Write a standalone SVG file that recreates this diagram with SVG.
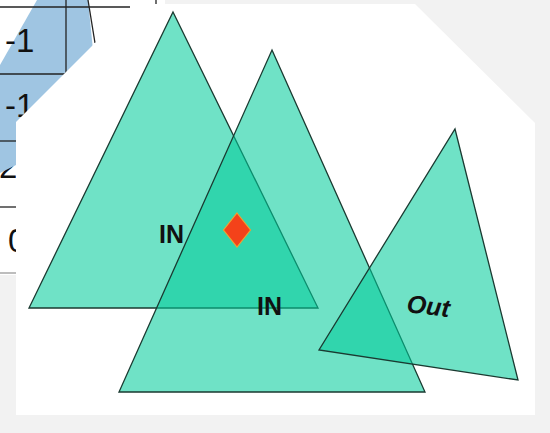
<svg xmlns="http://www.w3.org/2000/svg" width="550" height="433" viewBox="0 0 550 433">
<style>
.tri{fill:rgb(2,204,154);fill-opacity:0.57;stroke:#1a3a31;stroke-width:1.3;stroke-linejoin:miter}
.tl{stroke:#222;stroke-width:1.3;fill:none}
.tt{font-family:"Liberation Sans",Arial,sans-serif;font-size:33px;fill:#111}
.lbl{font-family:"Liberation Sans",Arial,sans-serif;font-weight:bold;font-size:25px;fill:#111}
</style>
<rect x="0" y="0" width="550" height="433" fill="#f2f2f2"/>
<g id="table">
<rect x="0" y="0" width="165" height="275" fill="#ffffff"/>
<text class="tt" x="-1" y="178">2</text>
<polygon points="37,0 88,0 100,120 16,165 0,173 0,65" fill="#9fc5e2"/>
<line class="tl" x1="88" y1="0" x2="95" y2="43"/>
<line class="tl" x1="0" y1="7" x2="130" y2="7"/>
<line class="tl" x1="66" y1="0" x2="66" y2="74"/>
<line class="tl" x1="0" y1="74" x2="90" y2="74"/>
<line class="tl" x1="0" y1="141" x2="30" y2="141"/>
<line class="tl" x1="0" y1="207" x2="30" y2="207"/>
<line x1="0" y1="273" x2="30" y2="273" stroke="#999" stroke-width="1.3"/>
<line class="tl" x1="156" y1="0" x2="156" y2="4"/>
<text class="tt" x="5" y="52">-1</text>
<text class="tt" x="5" y="117">-1</text>
<text class="tt" x="8" y="252">0</text>
</g>
<polygon id="panel" points="16,122 134,4 415,4 535,123 535,415 16,415" fill="#ffffff"/>
<g id="triangles">
<polygon id="t1" class="tri" points="173,12 318,308 29,308"/>
<polygon id="t2" class="tri" points="272,50 425,392 119,392"/>
<polygon id="t3" class="tri" points="455,129 518,380 319,350"/>
</g>
<g id="diamond">
<polygon points="237,213 250.5,230 237,247 223.5,230" fill="#f4421a" stroke="#f0a030" stroke-width="1.2"/>
</g>
<g id="labels">
<text class="lbl" x="159" y="243">IN</text>
<text class="lbl" x="257" y="315">IN</text>
<text class="lbl" font-style="italic" x="0" y="0" transform="translate(406,312) rotate(7)">Out</text>
</g>
<g id="connectors"/>
</svg>
